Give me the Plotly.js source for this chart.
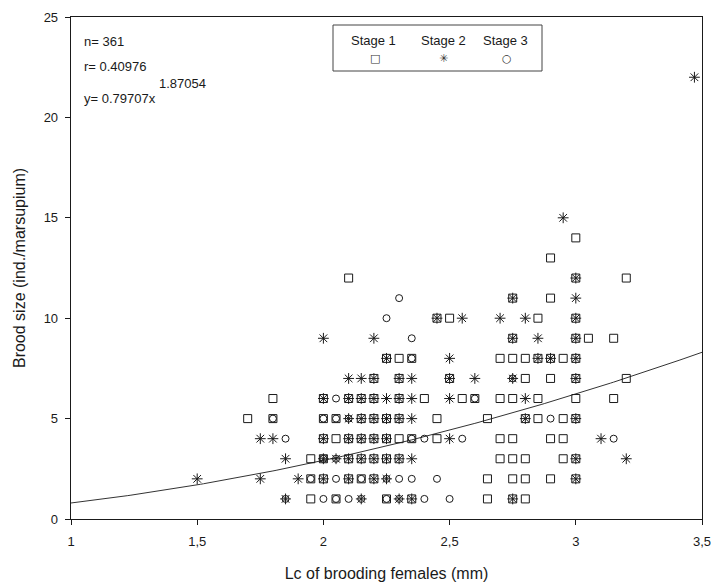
<!DOCTYPE html>
<html><head><meta charset="utf-8">
<script src="https://cdn.plot.ly/plotly-3.0.1.min.js"></script>
<style>html,body{margin:0;padding:0;background:#fff}#chart{width:714px;height:587px}</style>
</head><body><div id="chart"></div>
<script>
// Stage 1 (open squares)
const stage1X = [
  1.95,2.05,2.25,2.35,2.65,2.75,2.8,
  1.95,2.0,2.1,2.15,2.2,2.65,2.75,2.8,2.9,3.0,
  1.95,2.0,2.1,2.15,2.2,2.25,2.3,2.7,2.75,2.8,2.95,3.0,
  2.0,2.05,2.1,2.15,2.2,2.25,2.3,2.35,2.45,2.7,2.75,2.9,2.95,
  1.7,1.8,2.0,2.05,2.15,2.2,2.25,2.3,2.45,2.65,2.8,2.85,2.95,3.0,
  1.8,2.0,2.1,2.15,2.2,2.3,2.4,2.55,2.6,2.7,2.75,2.85,3.0,3.15,
  2.2,2.3,2.5,2.8,2.9,3.0,3.2,
  2.25,2.3,2.35,2.7,2.75,2.8,2.85,2.9,2.95,3.0,
  2.75,3.0,3.05,3.15,
  2.45,2.5,2.85,3.0,
  2.75,2.9,
  2.1,3.0,3.2,
  2.9,
  3.0
];
const stage1Y = [
  1,1,1,1,1,1,1,
  2,2,2,2,2,2,2,2,2,2,
  3,3,3,3,3,3,3,3,3,3,3,3,
  4,4,4,4,4,4,4,4,4,4,4,4,4,
  5,5,5,5,5,5,5,5,5,5,5,5,5,5,
  6,6,6,6,6,6,6,6,6,6,6,6,6,6,
  7,7,7,7,7,7,7,
  8,8,8,8,8,8,8,8,8,8,
  9,9,9,9,
  10,10,10,10,
  11,11,
  12,12,12,
  13,
  14
];
// Stage 2 (asterisks)
const stage2X = [
  1.85,2.15,2.3,2.35,2.75,
  1.5,1.75,1.9,2.0,2.1,2.2,2.25,3.0,
  1.85,2.0,2.05,2.1,2.15,2.2,2.25,2.3,2.35,3.0,3.2,
  1.75,1.8,2.0,2.1,2.15,2.2,2.25,2.5,3.1,
  2.1,2.15,2.2,2.25,2.3,2.35,2.8,3.0,
  2.0,2.1,2.15,2.2,2.25,2.3,2.35,2.5,2.8,
  2.1,2.15,2.2,2.3,2.35,2.5,2.6,2.75,3.0,
  2.25,2.5,2.85,2.9,3.0,
  2.0,2.2,2.75,2.85,3.0,
  2.45,2.55,2.7,2.8,3.0,
  2.75,3.0,
  3.0,
  2.95,
  3.47
];
const stage2Y = [
  1,1,1,1,1,
  2,2,2,2,2,2,2,2,
  3,3,3,3,3,3,3,3,3,3,3,
  4,4,4,4,4,4,4,4,4,
  5,5,5,5,5,5,5,5,
  6,6,6,6,6,6,6,6,6,
  7,7,7,7,7,7,7,7,7,
  8,8,8,8,8,
  9,9,9,9,9,
  10,10,10,10,10,
  11,11,
  12,
  15,
  22
];
// Stage 3 (open circles)
const stage3X = [
  1.85,2.0,2.05,2.1,2.15,2.25,2.3,2.4,2.5,
  1.95,2.05,2.15,2.25,2.3,2.35,2.45,
  2.0,2.05,
  1.85,2.35,2.4,2.55,3.15,
  1.8,2.0,2.05,2.1,2.9,
  2.05,2.6,
  2.75,
  2.35,
  2.35,
  2.25,
  2.3
];
const stage3Y = [
  1,1,1,1,1,1,1,1,1,
  2,2,2,2,2,2,2,
  3,3,
  4,4,4,4,4,
  5,5,5,5,5,
  6,6,
  7,
  8,
  9,
  10,
  11
];
// Fitted power curve y = a * x^b (as printed on the chart)
const fitA = 0.79707;
const fitB = 1.87054;
const fitXmin = 1.0, fitXmax = 3.5;
const xTickVals = [1, 1.5, 2, 2.5, 3, 3.5];
const yTickVals = [0, 5, 10, 15, 20, 25];
const legendLabels = ['Stage 1', 'Stage 2', 'Stage 3'];

const curveX = [], curveY = [];
for (let i = 0; i <= 200; i++) {
  const x = fitXmin + (fitXmax - fitXmin) * i / 200;
  curveX.push(x); curveY.push(fitA * Math.pow(x, fitB));
}

const ink = '#1a1a1a';
const font = 'Liberation Sans, Arial, sans-serif';

const traces = [
  {x: curveX, y: curveY, mode: 'lines', line: {color: '#333', width: 1}, hoverinfo: 'skip', showlegend: false},
  {x: stage1X, y: stage1Y, mode: 'markers', name: legendLabels[0],
   marker: {symbol: 'square-open', size: 8, color: ink, line: {width: 1, color: ink}}},
  {x: stage2X, y: stage2Y, mode: 'markers', name: legendLabels[1],
   marker: {symbol: 'asterisk-open', size: 9, color: ink, line: {width: 1, color: ink}}},
  {x: stage3X, y: stage3Y, mode: 'markers', name: legendLabels[2],
   marker: {symbol: 'circle-open', size: 7, color: ink, line: {width: 1, color: ink}}}
];

const L = 71, R = 12, T = 17, B = 68, W = 714, H = 587;
const pw = W - L - R, ph = H - T - B;
const px = v => (v - L) / pw;
const py = v => 1 - (v - T) / ph;

const legendTextX = [373, 443, 506];
const legendSymX = [375, 443, 507];
const legendSyms = ['\u25A1', '\u2733', '\u25CB'];

const annotations = [
  {text: 'n= 361', x: px(82), y: py(42), xanchor: 'left', yanchor: 'middle'},
  {text: 'r= 0.40976', x: px(82), y: py(66), xanchor: 'left', yanchor: 'middle'},
  {text: 'y= 0.79707x', x: px(82), y: py(99), xanchor: 'left', yanchor: 'middle'},
  {text: '1.87054', x: px(157), y: py(83), xanchor: 'left', yanchor: 'middle'}
].map(a => Object.assign(a, {xref: 'paper', yref: 'paper', showarrow: false, font: {family: font, size: 13, color: ink}}));

legendLabels.forEach((t, i) => {
  annotations.push({text: t, x: px(legendTextX[i]), y: py(41), xref: 'paper', yref: 'paper', showarrow: false,
    xanchor: 'center', yanchor: 'middle', font: {family: font, size: 13, color: ink}});
  annotations.push({text: legendSyms[i], x: px(legendSymX[i]), y: py(58), xref: 'paper', yref: 'paper', showarrow: false,
    xanchor: 'center', yanchor: 'middle', font: {family: 'DejaVu Sans, sans-serif', size: 11, color: '#333'}});
});

const axisCommon = {
  showline: true, linecolor: ink, linewidth: 1.3, mirror: true,
  ticks: 'outside', ticklen: 5, tickcolor: ink, showgrid: false, zeroline: false,
  tickfont: {family: font, size: 13, color: ink}
};

const layout = {
  width: W, height: H,
  margin: {l: L, r: R, t: T, b: B},
  paper_bgcolor: '#fff', plot_bgcolor: '#fff',
  separators: ', ',
  showlegend: false,
  xaxis: Object.assign({}, axisCommon, {range: [1, 3.5], tickvals: xTickVals, ticklabelstandoff: 5,
    title: {text: 'Lc of brooding females (mm)', font: {family: font, size: 16, color: ink}, standoff: 20}}),
  yaxis: Object.assign({}, axisCommon, {range: [0, 25], tickvals: yTickVals, ticklabelstandoff: 4,
    title: {text: 'Brood size (ind./marsupium)', font: {family: font, size: 16, color: ink}, standoff: 14}}),
  shapes: [{type: 'rect', xref: 'paper', yref: 'paper', x0: px(333), x1: px(542), y0: py(71), y1: py(25),
    line: {color: '#444', width: 1}}],
  annotations: annotations
};

Plotly.newPlot('chart', traces, layout, {staticPlot: true, displayModeBar: false});
</script>
</body></html>
